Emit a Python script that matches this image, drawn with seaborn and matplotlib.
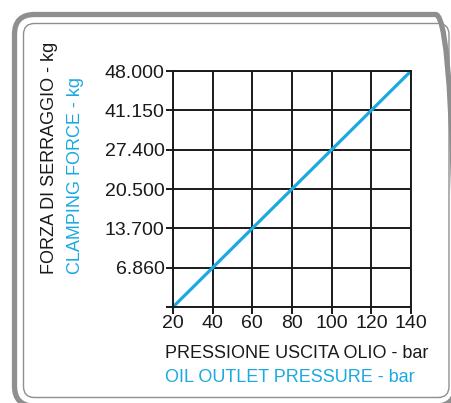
import matplotlib
matplotlib.use("Agg")
import matplotlib.pyplot as plt
from matplotlib.patches import FancyBboxPatch
from matplotlib.transforms import IdentityTransform
import seaborn as sns
import pandas as pd

# dati del grafico
pressione = [20, 40, 60, 80, 100, 120, 140]
forza = [0, 6860, 13700, 20500, 27400, 41150, 48000]
forza_labels = ['', '6.860', '13.700', '20.500', '27.400', '41.150', '48.000']

blue = '#1ba9e1'
grey = '#8f8f8f'

sns.set_style("white")
plt.rcParams['font.family'] = ['Liberation Sans Narrow', 'Liberation Sans', 'DejaVu Sans']

# la scala verticale e' a passi uguali: ogni livello di forza e' una riga della griglia
livello = [forza.index(v) for v in forza]
df = pd.DataFrame({'pressione': pressione, 'livello': livello})

fig = plt.figure(figsize=(4.52, 4.03), dpi=100)

# cornice arrotondata (coordinate in pixel, origine in basso a sinistra)
outer = FancyBboxPatch((14.5, -3), 441, 391.5,
                       boxstyle="round,pad=0,rounding_size=20",
                       transform=IdentityTransform(), fill=False,
                       edgecolor=grey, linewidth=3.8, zorder=0)
fig.patches.append(outer)
inner = FancyBboxPatch((23.5, 5.5), 425.5, 374,
                       boxstyle="round,pad=0,rounding_size=11",
                       transform=IdentityTransform(), fill=False,
                       edgecolor=grey, linewidth=1.0, zorder=0)
fig.patches.append(inner)

ax = fig.add_axes([173 / 452, 1 - 307 / 403, (411 - 173) / 452, (307 - 71) / 403])
sns.lineplot(data=df, x='pressione', y='livello', ax=ax, color=blue, linewidth=2.3)

ax.set_xlim(20, 140)
ax.set_ylim(0, 6)
ax.set_xticks(pressione)
ax.set_yticks(livello)
ax.set_yticklabels(forza_labels)
ax.grid(True, color='#1a1a1a', linewidth=1.4)
ax.set_axisbelow(True)
for s in ax.spines.values():
    s.set_color('#1a1a1a')
    s.set_linewidth(1.4)
ax.tick_params(axis='both', which='both', direction='out', length=5, width=1.4,
               color='#1a1a1a', labelsize=14, pad=1, labelcolor='#1a1a1a',
               left=True, bottom=True)
ax.set_xlabel('')
ax.set_ylabel('')

fig.text(165 / 452, 1 - 354 / 403, 'PRESSIONE USCITA OLIO - bar', fontsize=13,
         color='#1a1a1a', ha='left', va='center')
fig.text(165 / 452, 1 - 378 / 403, 'OIL OUTLET PRESSURE - bar', fontsize=13,
         color=blue, ha='left', va='center')
fig.text(50 / 452, 1 - 274 / 403, 'FORZA DI SERRAGGIO - kg', fontsize=13,
         color='#1a1a1a', rotation=90, ha='center', va='bottom')
fig.text(75 / 452, 1 - 274 / 403, 'CLAMPING FORCE - kg', fontsize=13,
         color=blue, rotation=90, ha='center', va='bottom')

fig.savefig('out.png', dpi=100)
